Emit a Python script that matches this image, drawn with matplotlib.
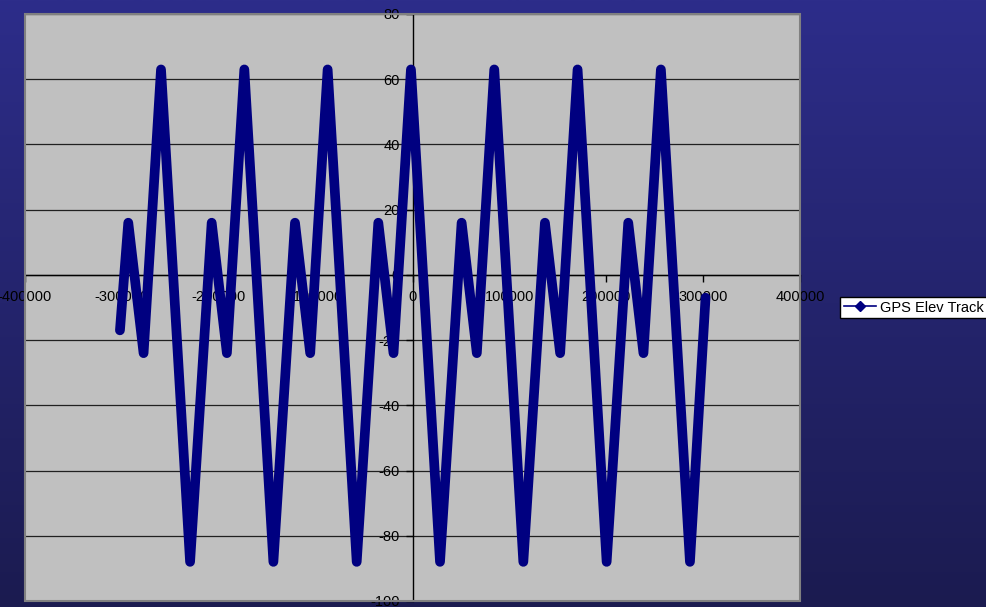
import numpy as np
import matplotlib
matplotlib.use('Agg')
import matplotlib.pyplot as plt
from matplotlib.lines import Line2D
from matplotlib.patches import Rectangle

# GPS elevation track, vertices
track_x = [-302000, -293400, -277600, -259600, -229600, -207300, -191600,
           -173600, -143600, -121300, -105600, -87600, -57600, -35300,
           -19600, -1600, 28400, 50700, 66400, 84400, 114400, 136700,
           152400, 170400, 200400, 222700, 238400, 256400, 286400, 302500]
track_y = [-17, 16, -24, 63, -88, 16, -24,
           63, -88, 16, -24, 63, -88, 16,
           -24, 63, -88, 16, -24, 63, -88, 16,
           -24, 63, -88, 16, -24, 63, -88, -7]

x_ticks = [-400000, -300000, -200000, -100000, 0, 100000, 200000, 300000, 400000]
y_ticks = [-100, -80, -60, -40, -20, 0, 20, 40, 60, 80]
series_name = 'GPS Elev Track'

plt.rcParams['font.family'] = ['Liberation Sans', 'DejaVu Sans']

fig = plt.figure(figsize=(9.86, 6.07), dpi=100)

# blue gradient background
bg = fig.add_axes([0, 0, 1, 1], zorder=-10)
grad = np.linspace(0, 1, 256).reshape(-1, 1)
top = np.array([45, 45, 138]) / 255
bot = np.array([27, 27, 80]) / 255
img = top + (bot - top) * grad[:, :, None]
bg.imshow(img, aspect='auto', extent=[0, 1, 0, 1])
bg.axis('off')

ax = fig.add_axes([25 / 986, 1 - 601 / 607, 775 / 986, 587 / 607])
ax.set_facecolor('#C0C0C0')
ax.set_xlim(-400000, 400000)
ax.set_ylim(-100, 80)

ax.spines['left'].set_position('zero')
ax.spines['bottom'].set_position('zero')
ax.spines['right'].set_visible(False)
ax.spines['top'].set_visible(False)
for s in ('left', 'bottom'):
    ax.spines[s].set_linewidth(1)
    ax.spines[s].set_color('black')

ax.set_xticks(x_ticks)
ax.set_xticklabels([str(v) for v in x_ticks])
ax.set_yticks(y_ticks)
ax.set_yticklabels([str(v) for v in y_ticks])
ax.tick_params(axis='both', direction='out', length=5, width=1, labelsize=10.5, colors='black')
ax.tick_params(axis='x', pad=6)
ax.tick_params(axis='y', pad=4)

ax.grid(axis='y', color='#202020', linewidth=0.9)
ax.grid(axis='x', visible=False)

# plot area border
ax.add_patch(Rectangle((0, 0), 1, 1, transform=ax.transAxes, fill=False,
                       edgecolor='#808080', linewidth=1.5, clip_on=False, zorder=5))

ax.plot(track_x, track_y, color='#000080', linewidth=7, solid_joinstyle='round',
        solid_capstyle='round', zorder=4)

handle = Line2D([], [], color='#000080', linewidth=1.2, marker='D', markersize=5)
leg = fig.legend([handle], [series_name], loc='center left',
                 bbox_to_anchor=(840 / 986, 1 - 307.5 / 607), fontsize=10.5,
                 frameon=True, fancybox=False, handlelength=2.2, handletextpad=0.3,
                 borderpad=0.25, borderaxespad=0, framealpha=1)
leg.get_frame().set_edgecolor('black')
leg.get_frame().set_facecolor('white')
leg.get_frame().set_linewidth(1)

fig.savefig('out.png', dpi=100)
